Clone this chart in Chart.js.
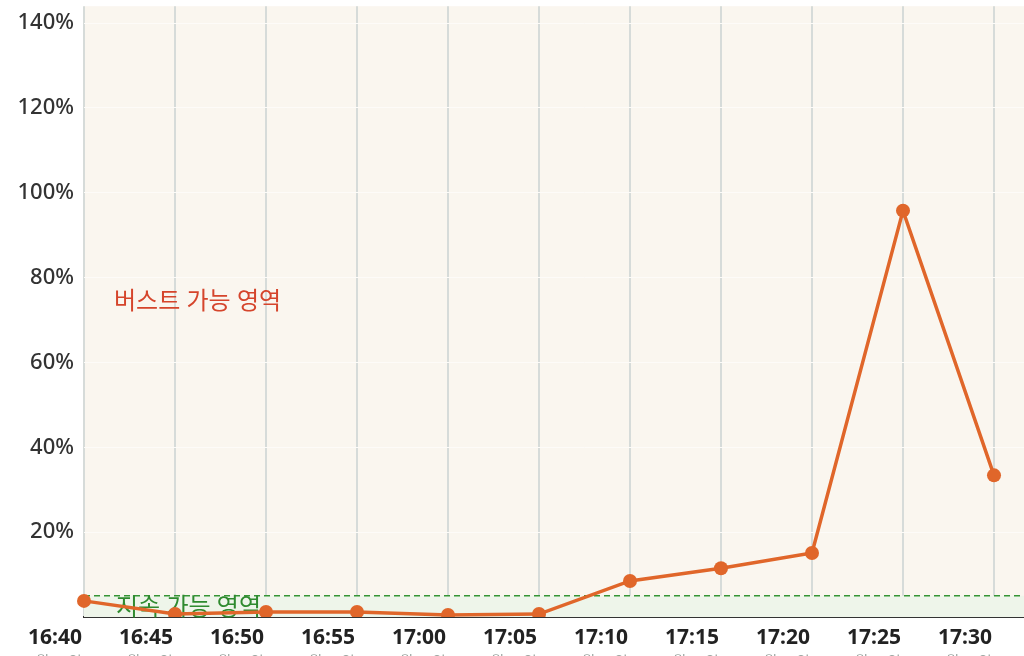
<!DOCTYPE html>
<html lang="ko">
<head>
<meta charset="utf-8">
<script src="https://cdn.jsdelivr.net/npm/chart.js@4.4.0/dist/chart.umd.min.js"></script>
<style>
  html, body { margin: 0; padding: 0; background: #fff; overflow: hidden; width: 1024px; height: 656px; }
  #wrap { position: relative; width: 1120px; height: 688px; margin-top: -17px; }
</style>
</head>
<body>
<div id="wrap"><canvas id="cpuChart"></canvas></div>
<script>
const times = ["16:40", "16:45", "16:50", "16:55", "17:00", "17:05", "17:10", "17:15", "17:20", "17:25", "17:30", "17:35"];
const dates = ["3월 17일", "3월 17일", "3월 17일", "3월 17일", "3월 17일", "3월 17일", "3월 17일", "3월 17일", "3월 17일", "3월 17일", "3월 17일", "3월 17일"];
const cpuUsage = [3.8, 0.7, 1.2, 1.2, 0.5, 0.7, 8.5, 11.5, 15.1, 95.8, 33.4, null];
const baseline = [5, 5, 5, 5, 5, 5, 5, 5, 5, 5, 5, 5];
const burstLabel = "버스트 가능 영역";
const sustainLabel = "지속 가능 영역";

const FONT = '"Noto Sans", "Noto Sans CJK KR", sans-serif';

// cream background behind the plot
const plotBg = {
  id: 'plotBg',
  beforeDraw(chart) {
    const { ctx, chartArea: a } = chart;
    ctx.save();
    ctx.fillStyle = '#faf6ef';
    ctx.fillRect(a.left, a.top, a.right - a.left, a.bottom - a.top);
    ctx.restore();
  }
};

// zone captions, drawn after the green band but under the cpu line
const zoneText = {
  id: 'zoneText',
  beforeDatasetDraw(chart, args) {
    if (args.index !== 0) return;
    const { ctx, scales: { x, y } } = chart;
    const left = x.getPixelForValue(0) + 30;
    ctx.save();
    ctx.font = '24px ' + FONT;
    ctx.textBaseline = 'middle';
    ctx.textAlign = 'left';
    ctx.fillStyle = '#d5452c';
    ctx.fillText(burstLabel, left, y.getPixelForValue(74.3));
    ctx.fillStyle = '#2f8a2f';
    ctx.fillText(sustainLabel, left + 2, y.getPixelForValue(2.0));
    ctx.restore();
  }
};

const ctx = document.getElementById('cpuChart').getContext('2d');
new Chart(ctx, {
  type: 'line',
  data: {
    labels: times,
    datasets: [
      {
        label: 'CPU',
        data: cpuUsage,
        borderColor: '#e0662a',
        backgroundColor: '#e0662a',
        borderWidth: 3.5,
        pointRadius: 7,
        pointBorderWidth: 0,
        pointHoverRadius: 7,
        tension: 0,
        order: 1
      },
      {
        label: 'baseline',
        data: baseline,
        borderColor: '#359535',
        borderWidth: 1.5,
        borderDash: [6, 4],
        backgroundColor: '#eef5ea',
        fill: 'start',
        pointRadius: 0,
        order: 2
      }
    ]
  },
  options: {
    responsive: true,
    maintainAspectRatio: false,
    animation: false,
    layout: { padding: { top: 5, right: 35, left: 0, bottom: 0 } },
    plugins: {
      legend: { display: false },
      tooltip: { enabled: false }
    },
    scales: {
      x: {
        type: 'category',
        offset: false,
        weight: 0,
        grid: { color: '#d6dbd9', lineWidth: 2, drawTicks: false },
        border: { display: true, color: '#333', width: 2 },
        ticks: {
          autoSkip: false,
          maxRotation: 0,
          padding: 8,
          labelOffset: -29,
          color: '#222',
          font: { family: FONT, size: 21, weight: 'bold' }
        },
        afterFit(scale) { scale.height = 32; }
      },
      x2: {
        type: 'category',
        position: 'bottom',
        labels: dates,
        offset: false,
        weight: 1,
        grid: { display: false, drawTicks: false },
        border: { display: false },
        ticks: {
          autoSkip: false,
          maxRotation: 0,
          padding: 5,
          labelOffset: -29,
          color: '#9aa5a0',
          font: { family: FONT, size: 14 }
        },
        afterFit(scale) { scale.height = 22; }
      },
      y: {
        min: 0,
        max: 144,
        grid: { color: '#fdfbf8', lineWidth: 1, drawTicks: false },
        border: { display: false },
        ticks: {
          stepSize: 20,
          includeBounds: false,
          padding: 10,
          color: '#333',
          font: { family: FONT, size: 22, weight: '500' },
          callback: (v) => v === 0 ? '' : v + '%'
        },
        afterFit(scale) { scale.width = 84; }
      }
    }
  },
  plugins: [plotBg, zoneText]
});
</script>
</body>
</html>
